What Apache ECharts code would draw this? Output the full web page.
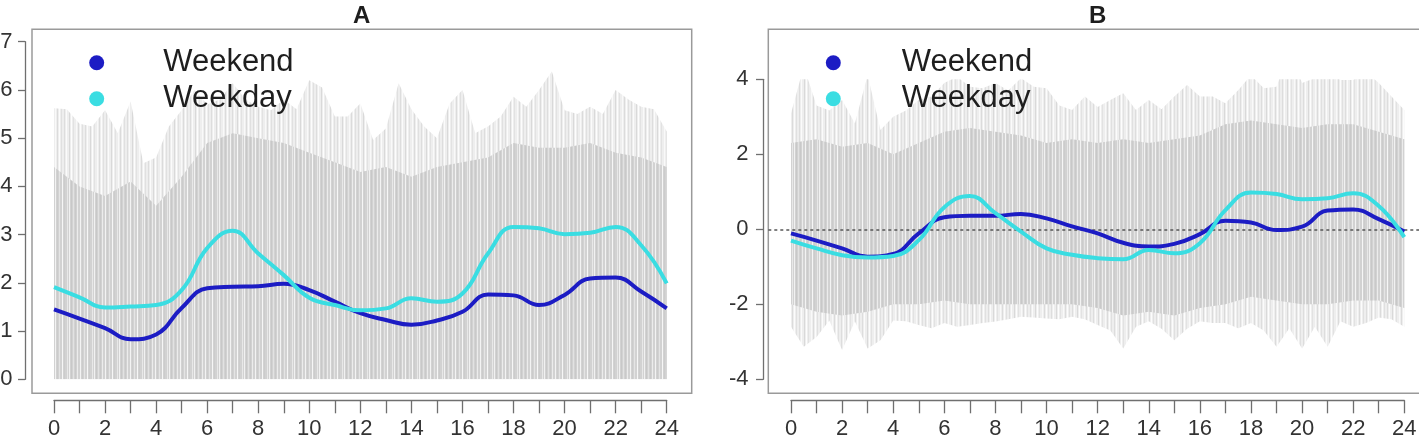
<!DOCTYPE html>
<html>
<head>
<meta charset="utf-8">
<title>Weekend vs Weekday</title>
<script src="https://cdn.jsdelivr.net/npm/echarts@6/dist/echarts.min.js"></script>
<style>
  html, body { margin: 0; padding: 0; background: #fff; }
  #main { width: 1419px; height: 444px; }
</style>
</head>
<body>
<div id="main"></div>
<script>
const hours = [0, 1, 2, 3, 4, 5, 6, 7, 8, 9, 10, 11, 12, 13, 14, 15, 16, 17, 18, 19, 20, 21, 22, 23, 24];
const halfHours = [0, 0.5, 1, 1.5, 2, 2.5, 3, 3.5, 4, 4.5, 5, 5.5, 6, 6.5, 7, 7.5, 8, 8.5, 9, 9.5, 10, 10.5, 11, 11.5,
  12, 12.5, 13, 13.5, 14, 14.5, 15, 15.5, 16, 16.5, 17, 17.5, 18, 18.5, 19, 19.5, 20, 20.5, 21, 21.5, 22, 22.5, 23, 23.5, 24];

// panel A
const weekendA = [1.45, 1.26, 1.06, 0.83, 0.93, 1.48, 1.89, 1.92, 1.93, 1.98, 1.85, 1.61, 1.37, 1.23, 1.13, 1.22, 1.40, 1.76, 1.74, 1.54, 1.75, 2.09, 2.11, 1.82, 1.47];
const weekdayA = [1.91, 1.70, 1.49, 1.51, 1.54, 1.85, 2.72, 3.08, 2.61, 2.16, 1.69, 1.54, 1.43, 1.47, 1.68, 1.61, 1.78, 2.61, 3.16, 3.13, 3.01, 3.04, 3.16, 2.78, 1.99];
// grey traces, read as an envelope (max) and the dense part
const spreadTopA = [5.62, 5.6, 5.3, 5.24, 5.58, 5.1, 5.76, 4.48, 4.6, 5.24, 5.58, 6.0, 5.7, 5.8, 6.14, 5.8, 5.65, 5.58, 5.8, 5.6, 6.2, 6.05, 5.45, 5.45,
  5.72, 4.96, 5.2, 6.14, 5.6, 5.24, 5.0, 5.72, 6.0, 5.1, 5.24, 5.45, 5.86, 5.65, 6.0, 6.38, 5.58, 5.5, 5.65, 5.5, 6.0, 5.8, 5.65, 5.6, 5.14];
const denseTopA = [4.4, 4.0, 3.8, 4.1, 3.6, 4.2, 4.9, 5.1, 5.0, 4.9, 4.7, 4.5, 4.3, 4.4, 4.2, 4.4, 4.5, 4.6, 4.9, 4.8, 4.8, 4.9, 4.7, 4.6, 4.4];

// panel B
const weekendB = [-0.11, -0.30, -0.51, -0.73, -0.66, -0.11, 0.32, 0.36, 0.36, 0.41, 0.29, 0.08, -0.11, -0.36, -0.46, -0.39, -0.13, 0.23, 0.18, -0.02, 0.07, 0.50, 0.53, 0.27, -0.06];
const weekdayB = [-0.30, -0.51, -0.69, -0.75, -0.71, -0.29, 0.59, 0.89, 0.43, -0.06, -0.51, -0.68, -0.77, -0.80, -0.55, -0.64, -0.37, 0.51, 0.98, 0.94, 0.80, 0.83, 0.96, 0.62, -0.21];
const spreadTopB = [3.09, 4.34, 3.3, 3.17, 3.45, 2.82, 4.11, 2.65, 3.0, 3.17, 3.45, 3.54, 3.9, 4.07, 3.8, 3.76, 3.9, 3.7, 4.03, 3.8, 3.76, 3.3, 3.18, 3.54,
  3.26, 3.45, 3.63, 3.18, 3.45, 3.2, 3.54, 3.85, 3.54, 3.54, 3.36, 3.71, 4.11, 3.76, 3.8, 4.74, 3.9, 4.03, 4.25, 3.98, 3.98, 4.2, 3.9, 3.54, 3.18];
const spreadBottomB = [-2.6, -3.13, -2.87, -2.43, -3.22, -2.45, -3.18, -2.96, -2.43, -2.45, -2.55, -2.64, -2.5, -2.6, -2.55, -2.5, -2.46, -2.4, -2.33, -2.35, -2.38, -2.4, -2.33, -2.4,
  -2.55, -2.7, -3.18, -2.6, -2.45, -2.65, -2.96, -2.65, -2.45, -2.5, -2.5, -2.64, -2.5, -2.7, -3.13, -2.64, -3.18, -2.6, -3.13, -2.45, -2.6, -2.5, -2.35, -2.4, -2.6];
const denseTopB = [2.3, 2.4, 2.2, 2.3, 2.0, 2.3, 2.6, 2.7, 2.6, 2.5, 2.3, 2.4, 2.3, 2.4, 2.3, 2.4, 2.5, 2.8, 2.9, 2.8, 2.7, 2.8, 2.8, 2.6, 2.4];
const denseBottomB = [-2.0, -2.2, -2.3, -2.2, -2.0, -2.0, -1.9, -2.0, -2.0, -2.0, -2.0, -2.0, -2.1, -2.3, -2.2, -2.3, -2.1, -2.0, -1.8, -1.9, -2.0, -2.0, -1.9, -1.9, -2.1];

const pairs = (xs, ys) => xs.map((x, i) => [x, ys[i]]);

const FONT = "'Liberation Sans', Arial, sans-serif";
const AXIS = '#6f6f6f';
const BLUE = '#1c1cc4';
const CYAN = '#3adde2';

// streaky fill so the grey bands look like many overlapping thin traces
function streaks(base, shades) {
  const c = document.createElement('canvas');
  c.width = shades.length;
  c.height = 8;
  const ctx = c.getContext('2d');
  ctx.fillStyle = base;
  ctx.fillRect(0, 0, c.width, c.height);
  shades.forEach((s, i) => {
    if (!s) return;
    ctx.fillStyle = s;
    ctx.fillRect(i, 0, 1, c.height);
  });
  return { image: c, repeat: 'repeat' };
}
const denseFill = streaks('#d2d2d2', ['#c9c9c9', '', '#ececec', '', '', '#f3f3f3', '', '#cbcbcb', '', '#e4e4e4', '', '',
  '#f6f6f6', '', '#cccccc', '', '', '#e8e8e8', '', '#f1f1f1', '', '#c8c8c8', '', '#e2e2e2', '']);
const spreadFill = streaks('#eeeeee', ['', '#dddddd', '', '#fbfbfb', '', '', '#d9d9d9', '', '#fdfdfd', '', '#e2e2e2', '',
  '', '#f9f9f9', '', '#dbdbdb', '', '#fcfcfc', '', '#e0e0e0', '']);

const chart = echarts.init(document.getElementById('main'));

function plotX(gridIndex) {
  return {
    type: 'value', gridIndex: gridIndex, min: 0, max: 24, interval: 2, offset: 21,
    axisLine: { show: true, onZero: false, lineStyle: { color: AXIS, width: 1.3 } },
    axisTick: { show: true, length: 13, lineStyle: { color: AXIS, width: 1.3 } },
    minorTick: { show: true, splitNumber: 2, length: 13, lineStyle: { color: AXIS, width: 1.3 } },
    axisLabel: { margin: 18, fontSize: 22, color: '#333', fontFamily: FONT },
    splitLine: { show: false }
  };
}
function plotY(gridIndex, min, max, interval, offset, margin) {
  return {
    type: 'value', gridIndex: gridIndex, min: min, max: max, interval: interval, offset: offset,
    axisLine: { show: true, onZero: false, lineStyle: { color: AXIS, width: 1.3 } },
    axisTick: { show: true, length: 7, lineStyle: { color: AXIS, width: 1.3 } },
    axisLabel: { margin: margin, fontSize: 22, color: '#333', fontFamily: FONT },
    splitLine: { show: false }
  };
}
function hidden(gridIndex, min, max) {
  return { type: 'value', gridIndex: gridIndex, min: min, max: max, show: false, splitLine: { show: false } };
}
function band(name, xs, ys, xi, color, z) {
  return {
    name: name, type: 'line', xAxisIndex: xi, yAxisIndex: xi, data: pairs(xs, ys),
    showSymbol: false, silent: true, z: z,
    lineStyle: { width: 0, opacity: 0 },
    areaStyle: { color: color, opacity: 1 }
  };
}
function curve(name, ys, xi, color) {
  return {
    name: name, type: 'line', xAxisIndex: xi, yAxisIndex: xi, data: pairs(hours, ys),
    smooth: 0.45, showSymbol: false, z: 5,
    itemStyle: { color: color },
    lineStyle: { color: color, width: 4 }
  };
}
function legendAt(left, pad) {
  return {
    orient: 'vertical', left: left, top: 44.7, padding: 0, itemGap: 0,
    itemWidth: 15, itemHeight: 15, icon: 'circle', selectedMode: false,
    data: ['Weekend', 'Weekday'],
    textStyle: { fontSize: 31, lineHeight: 36, color: '#1e1e1e', fontFamily: FONT, padding: [0, 0, 0, pad] }
  };
}

// box of panel B reaches past the right edge; its y range follows the plot's scale
const pxPerUnitB = 300 / 8;
const boxTopB = 4 + (79.3 - 29.3) / pxPerUnitB;
const boxBottomB = -4 - (393.3 - 379.3) / pxPerUnitB;

const options = {
  animation: false,
  backgroundColor: '#fff',
  title: [
    { text: 'A', left: 353, top: 4.5, padding: 0, textStyle: { fontSize: 24, fontWeight: 'bold', color: '#1e1e1e', fontFamily: FONT } },
    { text: 'B', left: 1089, top: 4.5, padding: 0, textStyle: { fontSize: 24, fontWeight: 'bold', color: '#1e1e1e', fontFamily: FONT } }
  ],
  legend: [legendAt(89.2, 54), legendAt(825.8, 56)],
  grid: [
    { left: 54, right: 752.3, top: 41.7, bottom: 64.7, outerBoundsMode: 'none', containLabel: false },
    { left: 791, right: 14.7, top: 79.3, bottom: 64.7, outerBoundsMode: 'none', containLabel: false },
    { left: 32, top: 29.3, width: 659.7, height: 364, show: true, borderColor: '#9a9a9a', borderWidth: 1.5, z: 0, outerBoundsMode: 'none' },
    { left: 768.3, top: 29.3, width: 661, height: 364, show: true, borderColor: '#9a9a9a', borderWidth: 1.5, z: 0, outerBoundsMode: 'none' }
  ],
  xAxis: [plotX(0), plotX(1), hidden(2, 0, 1), hidden(3, 0, 1)],
  yAxis: [
    plotY(0, 0, 7, 1, 29, 12.5),
    plotY(1, -4, 4, 2, 28, 14.4),
    hidden(2, 0, 1),
    hidden(3, boxBottomB, boxTopB)
  ],
  series: [
    band('spread A', halfHours, spreadTopA, 0, spreadFill, 1),
    band('dense A', hours, denseTopA, 0, denseFill, 2),
    band('spread B top', halfHours, spreadTopB, 1, spreadFill, 1),
    band('spread B bottom', halfHours, spreadBottomB, 1, spreadFill, 1),
    band('dense B top', hours, denseTopB, 1, denseFill, 2),
    band('dense B bottom', hours, denseBottomB, 1, denseFill, 2),
    {
      name: 'zero', type: 'line', xAxisIndex: 3, yAxisIndex: 3, data: [], z: 3, silent: true,
      markLine: {
        silent: true, symbol: ['none', 'none'], label: { show: false },
        lineStyle: { color: '#555', type: [3, 3], width: 1.5 },
        data: [{ yAxis: 0 }]
      }
    },
    curve('Weekend', weekendA, 0, BLUE),
    curve('Weekday', weekdayA, 0, CYAN),
    curve('Weekend', weekendB, 1, BLUE),
    curve('Weekday', weekdayB, 1, CYAN)
  ]
};
chart.setOption(options);
window.addEventListener('resize', () => {
  chart.resize();
});
</script>
</body>
</html>
